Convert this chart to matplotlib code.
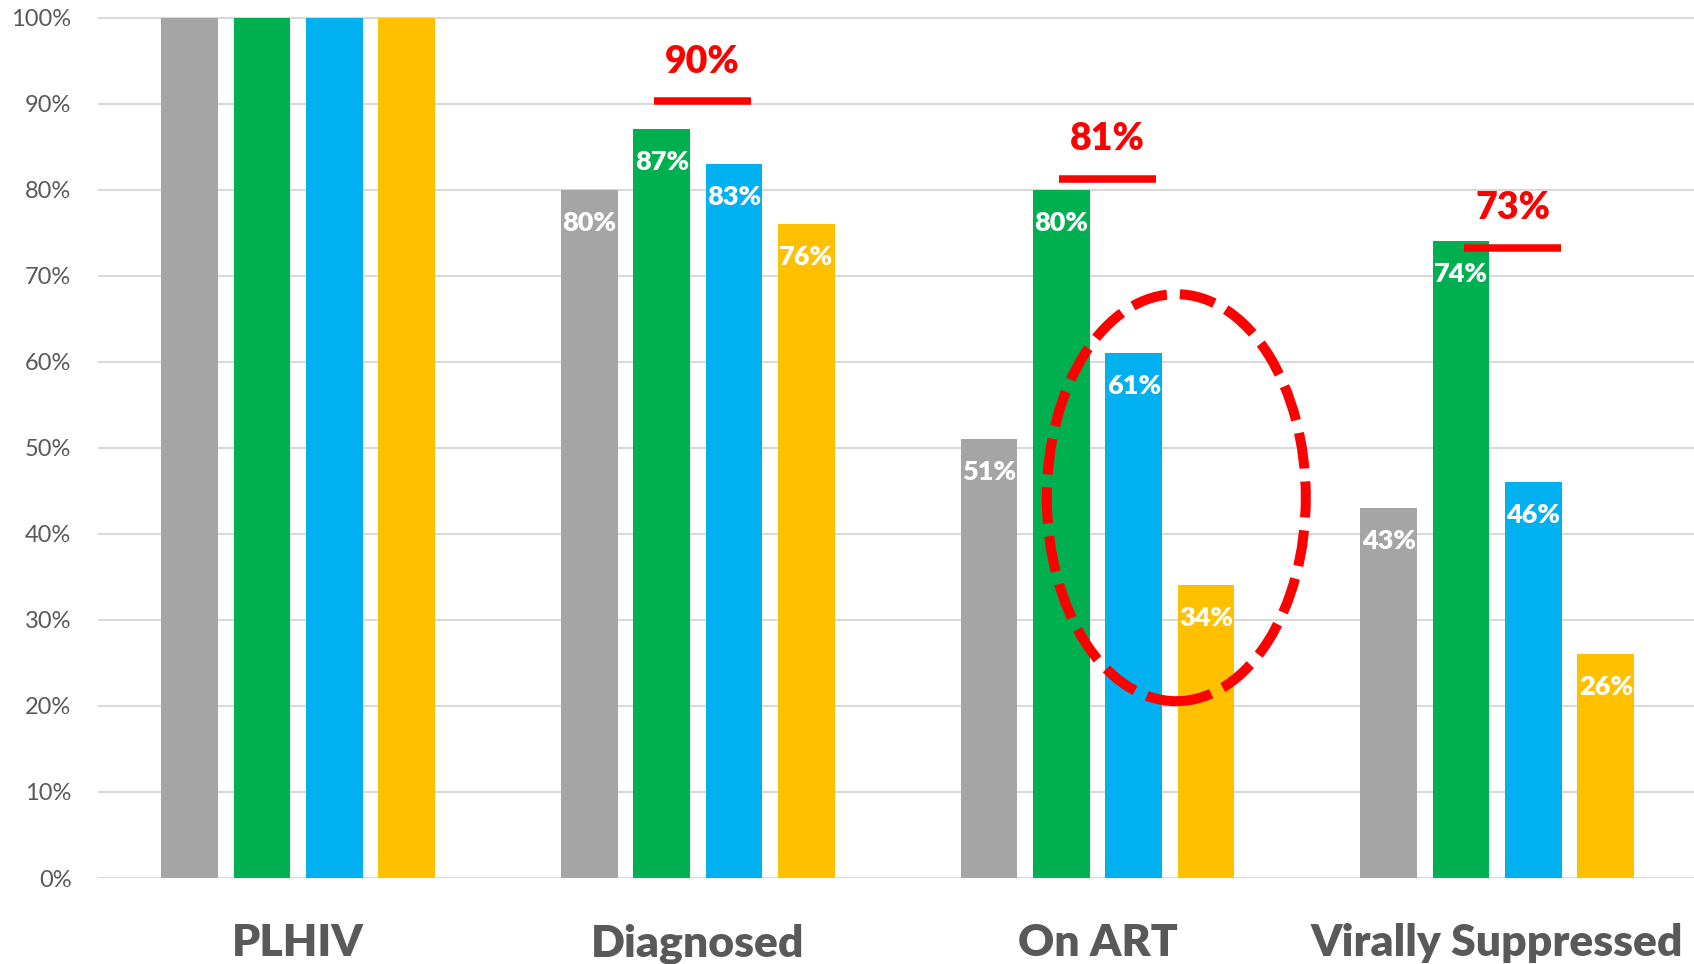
import matplotlib
matplotlib.use('Agg')
import matplotlib.pyplot as plt
from matplotlib.patches import Ellipse
import numpy as np

# Datos
categories = ['PLHIV', 'Diagnosed', 'On ART', 'Virally Suppressed']
series_1 = [100, 80, 51, 43]   # gris
series_2 = [100, 87, 80, 74]   # verde
series_3 = [100, 83, 61, 46]   # azul
series_4 = [100, 76, 34, 26]   # amarillo
targets = [None, 90, 81, 73]
y_ticks = [0, 10, 20, 30, 40, 50, 60, 70, 80, 90, 100]

colors = ['#A5A5A5', '#00B050', '#00B0F0', '#FFC000']
red = '#FF0000'
text_gray = '#595959'

plt.rcParams['font.family'] = ['Lato', 'DejaVu Sans']

fig = plt.figure(figsize=(16.94, 9.64), dpi=100)
ax = fig.add_axes([0.0581, 0.0892, 0.9437, 0.8944])

x = np.arange(len(categories))
width = 0.142
step = 0.181
all_series = [series_1, series_2, series_3, series_4]

for i, (vals, col) in enumerate(zip(all_series, colors)):
    pos = x + (i - 1.5) * step
    bars = ax.bar(pos, vals, width=width, color=col, zorder=2)
    for j, (b, v) in enumerate(zip(bars, vals)):
        if j == 0:
            continue  # PLHIV sin etiquetas
        ax.annotate(f'{v}%', (b.get_x() + b.get_width() / 2, v),
                    xytext=(0, -29.5), textcoords='offset points',
                    ha='center', va='baseline', color='white',
                    fontsize=19.5, fontweight='heavy', zorder=3)

# Metas (las lineas rojas no estan centradas igual en cada grupo)
nudge = [0, 0.0115, 0.025, 0.0385]
for j, t in enumerate(targets):
    if t is None:
        continue
    cx = x[j] + nudge[j]
    ax.plot([cx - 0.122, cx + 0.122], [t + 0.25, t + 0.25], color=red, lw=5.4,
            solid_capstyle='butt', zorder=4)
    ax.annotate(f'{t}%', (cx, t), xytext=(0, 22), textcoords='offset points',
                ha='center', va='baseline', color=red, fontsize=27,
                fontweight='heavy', zorder=4)

# Elipse discontinua alrededor de On ART
ell = Ellipse((x[2] + 0.197, 44.2), 0.648, 47.3, fill=False, edgecolor=red,
              lw=7.2, linestyle=(0, (3.6, 1.3)), zorder=5)
ax.add_patch(ell)

ax.set_xlim(-0.5, 3.5)
ax.set_ylim(0, 100.2)
ax.set_yticks(y_ticks)
ax.set_yticklabels([f'{v}%' for v in y_ticks])
ax.set_xticks(x)
ax.set_xticklabels(categories, fontsize=32, fontweight='heavy', color=text_gray)
ax.tick_params(axis='y', length=0, pad=19.4, labelsize=17, labelcolor=text_gray)
ax.tick_params(axis='x', length=0, pad=32.5)
ax.grid(axis='y', color='#D9D9D9', lw=1.5, zorder=0)
ax.set_axisbelow(True)
for s in ax.spines.values():
    s.set_visible(False)

fig.savefig('out.png', dpi=100)
